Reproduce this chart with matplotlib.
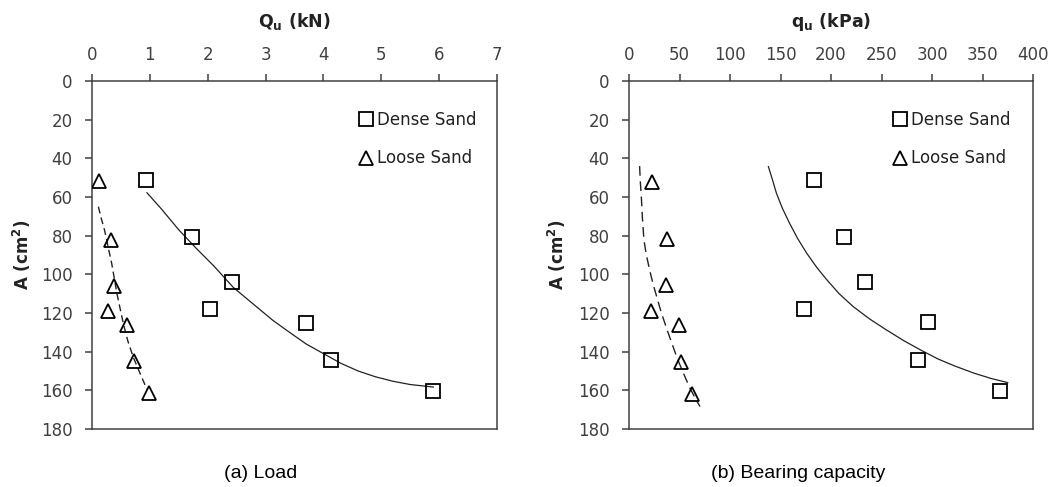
import matplotlib
matplotlib.use('Agg')
import matplotlib.pyplot as plt
from matplotlib.lines import Line2D

# measured points, (a) load
dense_Q = [0.94, 1.73, 2.42, 2.04, 3.70, 4.13, 5.90]
dense_A = [51.1, 80.8, 104.2, 118.0, 125.0, 144.3, 160.5]
loose_Q = [0.12, 0.33, 0.38, 0.27, 0.61, 0.73, 0.98]
loose_A = [51.8, 82.0, 105.8, 119.2, 126.0, 145.0, 161.6]

# trend lines as drawn in (a)
dense_fit_Q = [0.95, 1.2, 1.5, 1.8, 2.1, 2.44, 2.8, 3.13, 3.4, 3.7, 4.0,
               4.3, 4.6, 4.9, 5.2, 5.5, 5.9]
dense_fit_A = [57.8, 66.2, 77.0, 86.5, 95.5, 106.7, 115.7, 123.9, 129.7, 136.0, 141.0,
               146.0, 150.0, 153.0, 155.3, 157.0, 158.3]
loose_fit_Q = [0.11, 0.16, 0.22, 0.28, 0.34, 0.43, 0.54, 0.62, 0.71, 0.82, 0.95]
loose_fit_A = [65.0, 71.0, 77.5, 86.0, 94.3, 109.8, 125.3, 134.5, 142.6, 150.5, 159.5]

# measured points, (b) bearing capacity
dense_q = [183.6, 213.0, 233.3, 173.5, 296.5, 286.4, 367.5]
dense_Ab = [51.1, 80.8, 104.1, 117.9, 124.8, 144.3, 160.5]
loose_q = [23.0, 37.9, 36.5, 21.5, 49.8, 51.8, 61.9]
loose_Ab = [52.0, 81.6, 105.3, 119.1, 126.3, 145.3, 161.8]

# trend lines as drawn in (b)
dense_fit_q = [138, 142, 146, 152, 159, 167, 176, 186, 196, 208, 222,
               238, 255, 272, 289, 306, 323, 341, 358, 375]
dense_fit_Ab = [44.3, 51.0, 58.1, 66.0, 73.6, 81.5, 89.1, 96.5, 102.9, 110.0, 116.7,
                123.0, 128.8, 134.3, 139.2, 143.8, 147.5, 151.0, 153.8, 156.0]
loose_fit_q = [10.5, 11.2, 12.2, 13.3, 14.8, 17.0, 19.7, 22.0, 24.6, 28.0, 31.2,
               34.5, 37.8, 42.0, 46.0, 50.0, 54.2, 60.0, 65.0, 70.3]
loose_fit_Ab = [44.0, 52.0, 59.8, 71.0, 82.2, 89.5, 96.0, 101.2, 106.4, 112.6, 118.4,
                123.7, 128.8, 135.0, 140.9, 146.3, 151.5, 158.5, 163.5, 168.4]

W, H = 1056, 487
fig = plt.figure(figsize=(W / 100, H / 100), dpi=100)
ax1 = fig.add_axes([92 / W, 1 - 429 / H, 405 / W, 348 / H])
ax2 = fig.add_axes([629 / W, 1 - 429 / H, 404 / W, 348 / H])

spine_col = '#404040'
tick_col = '#404040'


def style(ax, xmax, xstep, xlabel, ylab_x):
    ax.set_xlim(0, xmax)
    ax.set_ylim(180, 0)
    ax.set_xticks(range(0, xmax + 1, xstep))
    ax.set_yticks(range(0, 181, 20))
    ax.xaxis.tick_top()
    ax.xaxis.set_label_position('top')
    for s in ax.spines.values():
        s.set_color(spine_col)
        s.set_linewidth(1.1)
    ax.tick_params(axis='both', direction='out', length=5, width=1.1,
                   color=spine_col, labelcolor=tick_col, labelsize=12)
    ax.tick_params(axis='x', pad=7)
    ax.tick_params(axis='y', pad=9)
    ax.set_xlabel(xlabel, fontsize=12.5, fontweight='bold', color='#222222')
    ax.xaxis.set_label_coords(0.5, 1.17)
    ax.xaxis.label.set_va('center')
    ax.set_ylabel('A (cm$^\\mathbf{2}$)', fontsize=12, fontweight='bold', color='#222222')
    ax.yaxis.set_label_coords(ylab_x, 0.5)
    ax.yaxis.label.set_va('center')


style(ax1, 7, 1, 'Q$_\\mathbf{u}$ (kN)', -0.174)
style(ax2, 400, 50, 'q$_\\mathbf{u}$ (kPa)', -0.1775)

mk = dict(ls='none', mfc='none', mec='black', mew=1.3, ms=9.5, zorder=3)

ax1.plot(dense_fit_Q, dense_fit_A, color='#222222', lw=0.9)
ax1.plot(loose_fit_Q, loose_fit_A, color='#222222', lw=1.0, ls=(0, (5, 3)))
ax1.plot(dense_Q, dense_A, marker='s', **mk)
ax1.plot(loose_Q, loose_A, marker='^', **mk)

ax2.plot(dense_fit_q, dense_fit_Ab, color='#222222', lw=0.9)
ax2.plot(loose_fit_q, loose_fit_Ab, color='#222222', lw=1.0, ls=(0, (7, 4)))
ax2.plot(dense_q, dense_Ab, marker='s', **mk)
ax2.plot(loose_q, loose_Ab, marker='^', **mk)

handles = [Line2D([], [], marker='s', **mk), Line2D([], [], marker='^', **mk)]
for ax, lx in ((ax1, 0.66), (ax2, 0.655)):
    ax.legend(handles, ['Dense Sand', 'Loose Sand'], loc='upper left',
              bbox_to_anchor=(lx, 0.915), frameon=False, fontsize=12,
              handlelength=0.8, handletextpad=0.25, labelspacing=1.25,
              borderpad=0, borderaxespad=0, labelcolor='#222222')

fig.text(260.8 / W, 1 - 473 / H, '(a) Load', ha='center', va='center',
         fontsize=14, family='Liberation Sans')
fig.text(798.6 / W, 1 - 473 / H, '(b) Bearing capacity', ha='center', va='center',
         fontsize=14, family='Liberation Sans')

fig.savefig('out.png', dpi=100)
